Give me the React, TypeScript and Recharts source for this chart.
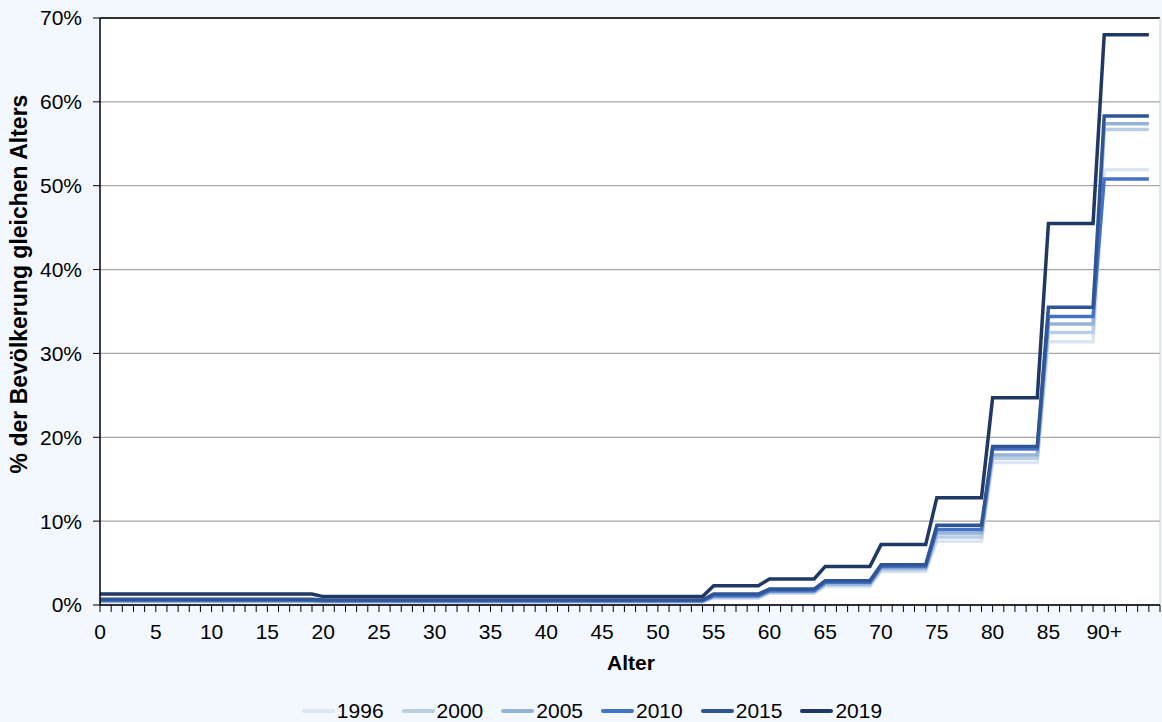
import React from 'react';
import { LineChart, Line, XAxis, YAxis, CartesianGrid, Legend, ReferenceLine } from 'recharts';

// Anteil der Pflegebedürftigen nach Alter, in % der Bevölkerung gleichen Alters
const years = ['1996', '2000', '2005', '2010', '2015', '2019'];
const groupStart = [0, 20, 55, 60, 65, 70, 75, 80, 85, 90];
const groupEnd = [19, 54, 59, 64, 69, 74, 79, 84, 89, 94];

const share1996 = [0.4, 0.35, 0.8, 1.4, 2.2, 4.0, 7.6, 17.0, 31.4, 51.9];
const share2000 = [0.45, 0.4, 0.9, 1.5, 2.4, 4.2, 8.1, 17.5, 32.5, 56.7];
const share2005 = [0.5, 0.45, 1.0, 1.6, 2.5, 4.4, 8.6, 17.9, 33.5, 57.4];
const share2010 = [0.55, 0.5, 1.1, 1.7, 2.7, 4.6, 9.0, 18.6, 34.4, 50.8];
const share2015 = [0.7, 0.6, 1.3, 1.9, 2.9, 4.8, 9.5, 18.9, 35.5, 58.3];
const share2019 = [1.3, 1.0, 2.3, 3.1, 4.6, 7.2, 12.8, 24.7, 45.5, 68.0];

const xTickLabels = ['0', '5', '10', '15', '20', '25', '30', '35', '40', '45', '50', '55', '60', '65', '70', '75', '80', '85', '90+'];
const yTicks = [0, 10, 20, 30, 40, 50, 60, 70];

const colors = ['#dce6f2', '#b9cde5', '#95b3d7', '#4472c4', '#2f5597', '#1f3864'];
const seriesValues = [share1996, share2000, share2005, share2010, share2015, share2019];

// one row per year of age, each age takes the value of its age group
const rows: Record<string, number>[] = [];
groupStart.forEach((start, g) => {
  for (let age = start; age <= groupEnd[g]; age++) {
    const row: Record<string, number> = { age };
    years.forEach((y, i) => {
      row[y] = seriesValues[i][g];
    });
    rows.push(row);
  }
});

const xTicks = Array.from({ length: 96 }, (_, i) => i);
const font = '"Liberation Sans", Arial, sans-serif';

function LegendBox() {
  return (
    <div
      style={{
        height: 45,
        display: 'flex',
        alignItems: 'flex-end',
        justifyContent: 'center',
        paddingLeft: 24,
        fontFamily: font,
        fontSize: 21,
        lineHeight: '22px',
        color: '#000',
      }}
    >
      {years.map((y, i) => (
        <div key={y} style={{ display: 'flex', alignItems: 'center', marginRight: i < years.length - 1 ? 18 : 0 }}>
          <span style={{ display: 'inline-block', width: 33, height: 4, borderRadius: 2, background: colors[i], marginRight: 2 }} />
          <span>{y}</span>
        </div>
      ))}
    </div>
  );
}

export default function App() {
  return (
    <div style={{ width: 1162, height: 722, background: '#f2f8fe', fontFamily: font }}>
      <style>{'body{margin:0}'}</style>
      <LineChart width={1162} height={722} data={rows} margin={{ top: 18, right: 2, left: 0, bottom: 0 }}>
        <CartesianGrid vertical={false} stroke="#a6a6a6" strokeWidth={1.3} fill="#ffffff" fillOpacity={1} />
        <XAxis
          dataKey="age"
          type="number"
          domain={[0, 95]}
          ticks={xTicks}
          interval={0}
          tickFormatter={(v: number) => (v % 5 === 0 && v <= 90 ? xTickLabels[v / 5] : '')}
          tickSize={7}
          tickMargin={12}
          height={72}
          axisLine={{ stroke: '#000', strokeWidth: 1.5 }}
          tickLine={{ stroke: '#000', strokeWidth: 1 }}
          tick={{ fill: '#000', fontSize: 21, fontFamily: font }}
          label={() => (
            <text x={631} y={670} textAnchor="middle" fontFamily={font} fontSize={21} fontWeight="bold" fill="#000">
              Alter
            </text>
          )}
        />
        <YAxis
          type="number"
          domain={[0, 70]}
          ticks={yTicks}
          interval={0}
          tickFormatter={(v: number) => `${v}%`}
          width={100}
          tickSize={7}
          tickMargin={11}
          axisLine={{ stroke: '#000', strokeWidth: 1.5 }}
          tickLine={{ stroke: '#000', strokeWidth: 1 }}
          tick={{ fill: '#000', fontSize: 21, fontFamily: font }}
          label={() => (
            <text
              x={19}
              y={284}
              transform="rotate(-90 19 284)"
              textAnchor="middle"
              dominantBaseline="central"
              fontFamily={font}
              fontSize={23}
              fontWeight="bold"
              fill="#000"
            >
              % der Bevölkerung gleichen Alters
            </text>
          )}
        />
        <ReferenceLine y={70} stroke="#000" strokeWidth={1.5} />
        <ReferenceLine x={95} stroke="#d0d0d0" strokeWidth={1} />
        <Legend verticalAlign="bottom" content={() => <LegendBox />} />
        {years.map((y, i) => (
          <Line
            key={y}
            dataKey={y}
            type="linear"
            stroke={colors[i]}
            strokeWidth={3.5}
            dot={false}
            activeDot={false}
            isAnimationActive={false}
          />
        ))}
      </LineChart>
    </div>
  );
}
